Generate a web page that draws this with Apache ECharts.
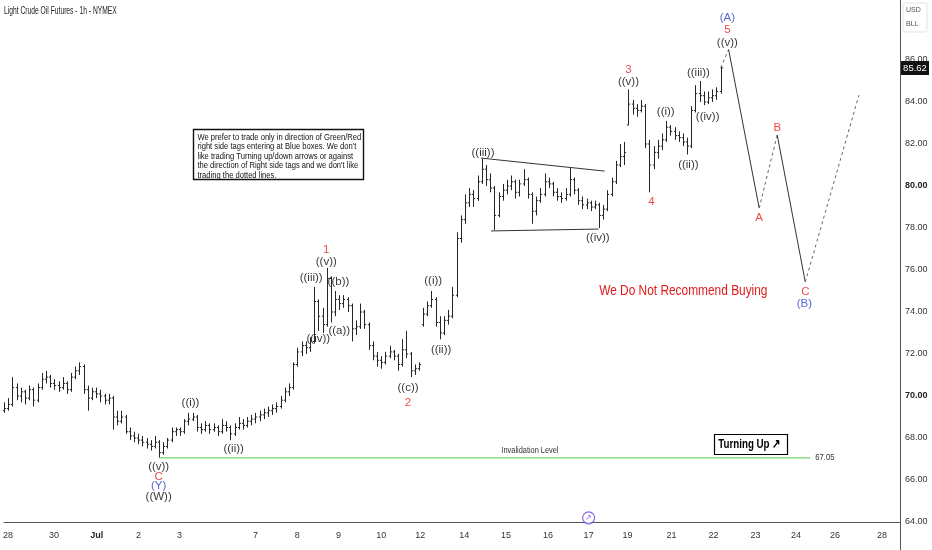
<!DOCTYPE html>
<html><head><meta charset="utf-8">
<script src="https://cdn.jsdelivr.net/npm/echarts@6/dist/echarts.min.js"></script>
<style>html,body{margin:0;padding:0;background:#fff}#c{width:932px;height:550px}</style>
</head><body><div id="c"></div>
<script>
// ---- data ----
const titleText = 'Light Crude Oil Futures - 1h - NYMEX';
// hourly bars [open, high, low, close]
const ohlc = [
[69.3,69.7,69.2,69.4],[69.4,69.9,69.3,69.6],[69.6,70.9,69.5,70.4],[70.4,70.6,69.8,70.0],[70.0,70.4,69.7,70.2],
[70.2,70.3,69.6,69.9],[69.9,70.5,69.8,70.3],[70.3,70.4,69.5,69.8],[69.8,70.6,69.7,70.4],[70.4,71.1,70.3,70.8],
[70.8,71.2,70.6,70.9],[70.9,71.0,70.4,70.6],[70.6,70.8,70.3,70.5],[70.5,70.7,70.2,70.4],[70.4,70.9,70.3,70.6],
[70.6,70.7,70.1,70.3],[70.3,71.1,70.2,70.9],[70.9,71.4,70.8,71.2],[71.2,71.6,71.0,71.4],[71.4,71.5,70.1,70.3],
[70.3,70.5,69.3,69.9],[69.9,70.4,69.8,70.2],[70.2,70.4,69.9,70.1],[70.1,70.3,69.7,70.0],[70.0,70.1,69.6,69.8],
[69.8,70.1,69.6,69.9],[69.9,70.0,68.4,69.0],[69.0,69.3,68.6,68.8],[68.8,69.3,68.7,69.0],[69.0,69.1,68.2,68.3],
[68.3,68.5,67.9,68.1],[68.1,68.3,67.8,68.0],[68.0,68.2,67.7,67.9],[67.9,68.1,67.6,67.8],[67.8,68.0,67.5,67.7],
[67.7,67.9,67.4,67.6],[67.6,68.1,67.5,67.8],[67.8,67.9,67.05,67.3],[67.3,67.8,67.2,67.6],[67.6,68.0,67.5,67.9],
[67.9,68.5,67.8,68.3],[68.3,68.5,68.1,68.4],[68.4,68.5,68.1,68.3],[68.3,68.9,68.2,68.8],[68.8,69.2,68.6,68.9],
[68.9,69.2,68.8,69.0],[69.0,69.1,68.3,68.5],[68.5,68.7,68.2,68.4],[68.4,68.8,68.3,68.6],[68.6,68.7,68.2,68.4],
[68.4,68.7,68.3,68.5],[68.5,68.6,68.1,68.3],[68.3,68.9,68.2,68.6],[68.6,68.8,68.3,68.5],[68.5,68.6,67.9,68.2],
[68.2,68.7,68.1,68.5],[68.5,69.0,68.4,68.7],[68.7,68.9,68.4,68.6],[68.6,69.0,68.5,68.8],[68.8,69.1,68.6,68.9],
[68.9,69.2,68.7,69.0],[69.0,69.3,68.8,69.1],[69.1,69.4,68.9,69.2],[69.2,69.5,69.0,69.3],[69.3,69.6,69.1,69.4],
[69.4,69.7,69.2,69.5],[69.5,70.0,69.4,69.8],[69.8,70.4,69.7,70.2],[70.2,70.6,70.0,70.4],[70.4,71.6,70.3,71.5],
[71.5,72.3,71.4,72.1],[72.1,72.6,71.9,72.4],[72.4,72.6,72.0,72.3],[72.3,72.8,72.1,72.6],[72.6,75.2,72.5,74.5],
[74.5,74.6,73.1,73.8],[73.8,74.2,73.0,73.4],[73.4,76.1,73.3,75.6],[75.6,75.7,73.5,74.0],[74.0,75.0,73.8,74.6],
[74.6,74.8,74.1,74.4],[74.4,74.8,74.2,74.6],[74.6,74.7,74.0,74.3],[74.3,74.4,72.6,73.2],[73.2,73.6,72.9,73.3],
[73.3,74.4,73.2,74.0],[74.0,74.1,73.2,73.4],[73.4,73.5,72.2,72.4],[72.4,72.6,71.7,71.9],[71.9,72.1,71.4,71.7],
[71.7,71.9,71.3,71.6],[71.6,72.1,71.5,71.9],[71.9,72.4,71.8,72.1],[72.1,72.2,71.7,71.9],[71.9,72.0,71.2,71.5],
[71.5,72.7,71.4,72.2],[72.2,73.1,71.8,72.0],[72.0,72.1,70.9,71.2],[71.2,71.5,71.0,71.3],[71.3,71.6,71.2,71.5],
[73.4,74.2,73.3,73.9],[73.9,74.5,73.8,74.3],[74.3,75.0,74.2,74.6],[74.6,74.7,73.3,73.5],[73.5,73.8,72.7,73.0],
[73.0,73.8,72.9,73.6],[73.6,74.1,73.4,73.8],[73.8,75.2,73.7,74.8],[74.8,77.8,74.7,77.5],[77.5,78.6,77.3,78.4],
[78.4,79.6,78.2,79.2],[79.2,79.9,79.0,79.6],[79.6,79.8,79.0,79.4],[79.4,80.5,79.3,80.2],[80.2,81.3,80.1,80.8],
[80.8,81.0,80.0,80.3],[80.3,80.6,79.7,79.9],[79.9,80.0,77.9,78.6],[78.6,79.7,78.5,79.5],[79.5,80.1,79.3,79.8],
[79.8,80.3,79.6,80.0],[80.0,80.5,79.8,80.2],[80.2,80.3,79.4,79.7],[79.7,80.3,79.5,80.1],[80.1,80.8,80.0,80.3],
[80.3,80.4,79.4,79.6],[79.6,79.7,78.2,78.8],[78.8,79.5,78.6,79.3],[79.3,79.9,79.2,79.6],[79.6,80.6,79.5,80.2],
[80.2,80.4,79.9,80.1],[80.1,80.2,79.5,79.7],[79.7,79.9,79.3,79.5],[79.5,79.7,79.2,79.4],[79.4,79.9,79.3,79.6],
[79.6,80.9,79.5,80.3],[80.3,80.4,79.6,79.8],[79.8,79.9,79.1,79.3],[79.3,79.5,78.9,79.1],[79.1,79.4,78.9,79.2],
[79.2,79.3,78.8,79.0],[79.0,79.3,78.9,79.1],[79.1,79.2,78.0,78.6],[78.6,79.1,78.4,78.9],[78.9,79.8,78.8,79.6],
[79.6,80.4,79.5,80.2],[80.2,81.2,80.1,81.0],[81.0,82.0,80.9,81.4],[81.4,82.1,81.0,81.6],[82.9,84.6,82.9,83.9],
[83.9,84.1,83.4,83.7],[83.7,83.9,83.3,83.6],[83.6,84.1,83.5,83.8],[83.8,83.9,81.8,82.0],[82.0,82.2,79.7,81.0],
[81.0,81.9,80.8,81.6],[81.6,82.2,81.3,81.9],[81.9,82.5,81.7,82.2],[82.2,83.1,82.1,82.8],[82.8,82.9,82.4,82.6],
[82.6,82.8,82.2,82.4],[82.4,82.6,82.1,82.3],[82.3,82.5,81.9,82.1],[82.1,82.3,81.5,81.9],[81.9,83.8,81.8,83.6],
[83.6,84.8,83.5,84.4],[84.4,85.0,84.0,84.3],[84.3,84.5,83.85,84.0],[84.0,84.5,83.9,84.2],[84.2,84.6,84.0,84.3],
[84.3,84.7,84.1,84.5],[84.5,85.7,84.4,85.62]
];
const lastPrice = 85.62;
const invalidationLevel = 67.05;
const invalidationRange = [36.9, 192.4];
const invalidationLabelX = 125.5;
// date tick labels (position in bar units, text)
const tickPos  = [0.95, 11.9, 22.1, 32.1, 41.9, 60, 70, 79.8, 90, 99.3, 109.8, 119.8, 129.8, 139.5, 148.8, 159.3, 169.3, 179.3, 189, 198.3, 209.5];
const tickText = ['28','30','Jul','2','3','7','8','9','10','12','14','15','16','17','19','21','22','23','24','26','28'];
const priceTicks = [64,66,68,70,72,74,76,78,80,82,84,86];
// triangle lines
const triUpper = [[113.8,81.33],[143.3,80.71]];
const triLower = [[116.2,77.86],[141.9,77.95]];
// projected path: last bar -> (A) -> A -> B -> C -> up
const projPts = [[171,85.62],[172.9,86.5],[180.2,78.95],[184.5,82.43],[191.2,75.43],[204.0,84.33]];
const projDashed = [true,false,true,false,true];
// wave labels [x, y, text, kind]
const waveLabels = [
[36.9,66.62,'((v))','k'],[36.9,66.14,'C','r'],[36.9,65.71,'(Y)','b'],[36.9,65.19,'((W))','k'],
[44.5,69.67,'((i))','k'],[54.8,67.48,'((ii))','k'],
[73.3,75.62,'((iii))','k'],[76.9,76.38,'((v))','k'],[76.9,76.95,'1','r'],[79.8,75.43,'((b))','k'],
[80.0,73.10,'((a))','k'],[75.0,72.71,'((iv))','k'],[96.4,70.38,'((c))','k'],[96.4,69.67,'2','r'],
[102.4,75.48,'((i))','k'],[104.3,72.19,'((ii))','k'],[114.3,81.57,'((iii))','k'],[141.7,77.52,'((iv))','k'],
[149,85.52,'3','r'],[149,84.95,'((v))','k'],[154.5,79.24,'4','r'],[157.9,83.52,'((i))','k'],
[163.3,81.0,'((ii))','k'],[165.7,85.38,'((iii))','k'],[167.9,83.29,'((iv))','k'],
[172.6,86.81,'((v))','k'],[172.6,87.43,'5','r'],[172.6,88.0,'(A)','b'],
[180.2,78.48,'A','r'],[184.5,82.76,'B','r'],[191.2,74.95,'C','r'],[191.0,74.38,'(B)','b']
];
const noteText = ["We prefer to trade only in direction of Green/Red","right side tags entering at Blue boxes. We don't","like trading Turning up/down arrows or against","the direction of Right side tags and we don't like","trading the dotted lines."];
const notePos = [45.2, 82.71];
const warnText = 'We Do Not Recommend Buying';
const warnPos = [162.1, 75.0];
const turnText = 'Turning Up \u2197';
const turnPos = [177.9, 67.71];
const eventPos = [139.5, 64.2];

// ---- chart ----
const FONT = '"Liberation Sans",Arial,sans-serif';
const colors = {k:'#000000', r:'#e21b1b', b:'#2545c4'};
const chart = echarts.init(document.getElementById('c'), null, {renderer:'canvas'});
const tickMap = {};
tickPos.forEach((p,i)=>{tickMap[p]=tickText[i];});

const barData = ohlc.map((d,i)=>[i, d[0], d[1], d[2], d[3]]);

const series = [];
series.push({
  type:'custom', name:'bars', z:2,
  renderItem:function(params, api){
    const i = api.value(0);
    const po = api.coord([i, api.value(1)]);
    const ph = api.coord([i, api.value(2)]);
    const pl = api.coord([i, api.value(3)]);
    const pc = api.coord([i, api.value(4)]);
    const x = Math.round(po[0]) + 0.5;
    const st = {stroke:'#262626', lineWidth:1};
    return {type:'group', children:[
      {type:'line', shape:{x1:x, y1:ph[1], x2:x, y2:pl[1]}, style:st},
      {type:'line', shape:{x1:x-1.6, y1:po[1], x2:x, y2:po[1]}, style:st},
      {type:'line', shape:{x1:x, y1:pc[1], x2:x+1.6, y2:pc[1]}, style:st}
    ]};
  },
  encode:{x:0, y:[1,2,3,4]},
  data: barData
});
function seg(pts, color, dashed, w){
  return {type:'line', data:pts, symbol:'none', silent:true, z:3,
    lineStyle:{color:color, width:w||1, type: dashed ? [3,3] : 'solid'}, animation:false};
}
series.push(seg(triUpper,'#333'));
series.push(seg(triLower,'#333'));
for (let k=0;k<projDashed.length;k++){
  series.push(seg([projPts[k], projPts[k+1]], projDashed[k] ? '#666' : '#333', projDashed[k]));
}
// invalidation line
series.push({type:'line', data:[[invalidationRange[0],invalidationLevel],[invalidationRange[1],invalidationLevel]],
  symbol:'none', silent:true, z:3, lineStyle:{color:'#6fd36f', width:1.2}});
// wave labels
series.push({type:'scatter', symbolSize:0, silent:true, z:5,
  data: waveLabels.map(w=>({value:[w[0],w[1]], label:{show:true, position:'inside', formatter:w[2], color:colors[w[3]], fontSize: 11.5, fontFamily:FONT}}))
});
// event icon
series.push({type:'scatter', silent:true, z:6, symbol:'circle', symbolSize:12,
  itemStyle:{color:'#fff', borderColor:'#6a40e6', borderWidth:1.2},
  label:{show:true, position:'inside', formatter:'\u2197', color:'#6a40e6', fontSize:8},
  data:[eventPos]
});

chart.setOption({
  animation:false,
  backgroundColor:'#fff',
  grid:{left:2, right:32, top:0, bottom:28, containLabel:false},
  xAxis:{type:'value', min:0, max:213.8, splitLine:{show:false},
    axisLine:{show:true, onZero:false, lineStyle:{color:'#555', width:1}},
    axisTick:{show:false},
    axisLabel:{customValues:tickPos, margin:9, color:'#333', fontSize:9, fontFamily:FONT,
      formatter:function(v){const t=tickMap[v]; if(t===undefined) return ''; return t==='Jul' ? '{b|Jul}' : t;},
      rich:{b:{fontWeight:'bold', fontSize:9, color:'#222', fontFamily:FONT}}}
  },
  yAxis:{type:'value', position:'right', min:64, max:88.857, interval:2, splitLine:{show:false},
    axisLine:{show:true, onZero:false, lineStyle:{color:'#555', width:1}},
    axisTick:{show:false},
    axisLabel:{customValues:priceTicks, margin:5, color:'#333', fontSize:9, fontFamily:FONT,
      formatter:function(v){ if(v>86) return ''; const s=v.toFixed(2); return (v===80||v===70) ? '{b|'+s+'}' : s; },
      rich:{b:{fontWeight:'bold', fontSize:9, color:'#222', fontFamily:FONT}}}
  },
  series:series
});

// ---- annotations placed through the chart's own scales ----
function px(p){ return chart.convertToPixel({gridIndex:0}, p); }
function stext(x, y, text, o){
  return {type:'text', x:x, y:y, scaleX:o.sx||1, z:o.z||50,
    style:{text:text, fontSize:o.fs, fill:o.fill||'#111', fontFamily:FONT, fontWeight:o.fw||'normal',
      align:o.align||'center', verticalAlign:o.va||'middle', lineHeight:o.lh}};
}
const g = [];
// title
g.push(stext(4, 11, titleText, {fs:10.5, sx:0.64, align:'left', fill:'#222'}));
// axis extension + currency box
g.push({type:'line', shape:{x1:900.5, y1:522, x2:900.5, y2:550}, style:{stroke:'#555', lineWidth:1}});
g.push({type:'rect', shape:{x:903, y:3, width:24, height:29, r:2}, style:{fill:'#fff', stroke:'#e3e3e3', lineWidth:1}});
g.push(stext(906, 10, 'USD', {fs:7, align:'left', fill:'#555'}));
g.push(stext(906, 24, 'BLL', {fs:7, align:'left', fill:'#555'}));
// last price tag
const lp = px([0, lastPrice]);
g.push({type:'rect', shape:{x:901, y:lp[1]-7, width:28, height:14}, style:{fill:'#111'}, z:60});
g.push(stext(915, lp[1], lastPrice.toFixed(2), {fs:9.5, fill:'#fff', z:61}));
// invalidation texts
const il = px([invalidationLabelX, invalidationLevel]);
g.push(stext(il[0], il[1]-7, 'Invalidation Level', {fs:9, sx:0.82, fill:'#333'}));
const ie = px([invalidationRange[1], invalidationLevel]);
g.push(stext(ie[0]+5, ie[1], invalidationLevel.toFixed(2), {fs:9, sx:0.85, align:'left', fill:'#333'}));
// note box
const np = px(notePos);
g.push({type:'rect', shape:{x:Math.round(np[0])+0.5, y:Math.round(np[1])+0.5, width:170, height:50}, style:{fill:'#fff', stroke:'#111', lineWidth:1.4}, z:49});
g.push(stext(np[0]+4, np[1]+3, noteText.join('\n'), {fs:9.5, sx:0.8, lh:9.6, align:'left', va:'top'}));
// warning text
const wp = px(warnPos);
g.push(stext(wp[0], wp[1], warnText, {fs:14.5, sx:0.82, fill:'#e21b1b'}));
// turning up box
const tp = px(turnPos);
g.push({type:'rect', shape:{x:Math.round(tp[0]-36)+0.5, y:Math.round(tp[1]-10)+0.5, width:73, height:20}, style:{fill:'#fff', stroke:'#000', lineWidth:1.2}, z:49});
g.push(stext(tp[0], tp[1]+0.5, turnText, {fs:12.5, sx:0.78, fw:'bold', fill:'#000'}));
chart.setOption({graphic:g});
</script></body></html>
